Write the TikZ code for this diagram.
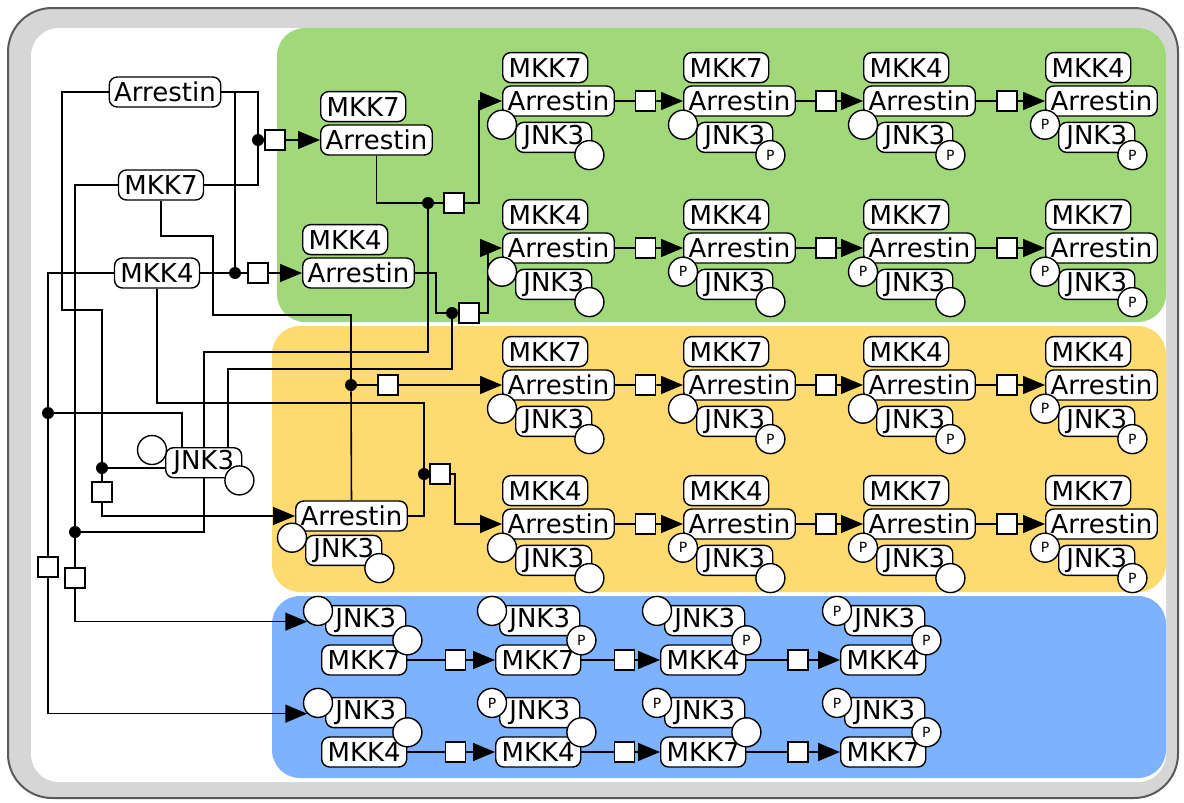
\documentclass[tikz,border=0pt]{standalone}
\usepackage{fontspec}
\setmainfont{DejaVu Sans}
\usetikzlibrary{positioning,arrows.meta,calc}

\definecolor{cellgreen}{RGB}{160,216,122}
\definecolor{cellyellow}{RGB}{254,219,112}
\definecolor{cellblue}{RGB}{125,178,255}
\definecolor{framegray}{RGB}{214,214,214}
\definecolor{frameline}{RGB}{90,90,90}

\pgfdeclarelayer{back}
\pgfdeclarelayer{wires}
\pgfsetlayers{back,wires,main}

\tikzset{
  species/.style={draw,fill=white,rounded corners=4pt,line width=0.7pt,
    inner xsep=2.5pt,inner ysep=0pt,minimum height=15pt,
    font=\fontsize{13}{13}\selectfont},
  mkk/.style={species,minimum width=42.5pt},
  jnk/.style={species,minimum width=38pt},
  site/.style={circle,draw,fill=white,line width=0.7pt,minimum size=14.5pt,
    inner sep=0pt,font=\fontsize{7}{7}\selectfont},
  proc/.style={draw,fill=white,line width=0.7pt,minimum size=10pt,inner sep=0pt},
  dot/.style={circle,fill=black,minimum size=6pt,inner sep=0pt},
  wire/.style={line width=0.8pt},
  react/.style={wire,-{Triangle[length=11pt,width=9pt]}}
}

% JNK3 with its two sites
\newcommand{\jnkbox}[4]{%
  \node[jnk,anchor=north west] (#1) at (#2) {JNK3};
  \node[site] (#1l) at ([xshift=-6.5pt,yshift=-1.5pt]#1.north west) {#3};
  \node[site] (#1r) at ([xshift=-1.5pt,yshift=-1pt]#1.south east) {#4};
}
% MKK:Arrestin:JNK3
\newcommand{\ternary}[6]{%
  \node[species,anchor=west] (#1) at (#2,#3) {Arrestin};
  \node[mkk,anchor=south west] (#1m) at ([yshift=1pt]#1.north west) {#4};
  \jnkbox{#1j}{[xshift=6.5pt,yshift=-2.5pt]#1.south west}{#5}{#6}
}
% JNK3:MKK
\newcommand{\dimer}[6]{%
  \node[mkk,anchor=west] (#1) at (#2,#3) {#4};
  \node[jnk,minimum width=40pt,anchor=south west] (#1j) at ([xshift=2pt,yshift=4pt]#1.north west) {JNK3};
  \node[site] (#1l) at ([xshift=-3.5pt,yshift=-3pt]#1j.north west) {#5};
  \node[site] (#1r) at ([xshift=0.5pt,yshift=-2pt]#1j.south east) {#6};
}

\begin{document}
\begin{tikzpicture}[x=0.5pt,y=-0.5pt]
  \useasboundingbox (0,0) rectangle (1184,803);

  % frame and compartments
  \begin{pgfonlayer}{back}
    \draw[frameline,line width=1pt,fill=framegray,rounded corners=22pt] (8,8) rectangle (1178,798);
    \fill[white,rounded corners=14pt] (31,28) rectangle (1166,782);
    \fill[cellgreen,rounded corners=14pt] (277,28) rectangle (1166,322);
    \fill[cellyellow,rounded corners=14pt] (272,326) rectangle (1166,592);
    \fill[cellblue,rounded corners=14pt] (272,596) rectangle (1166,778);
  \end{pgfonlayer}

  % free species
  \node[species] (fArr) at (165,92) {Arrestin};
  \node[mkk] (fMKK7) at (161,185) {MKK7};
  \node[mkk] (fMKK4) at (157,273) {MKK4};
  \jnkbox{fJNK}{165,447}{}{}

  % binary complexes
  \node[species,anchor=west] (c7) at (320,140) {Arrestin};
  \node[mkk,anchor=south west] (c7m) at ([yshift=1pt]c7.north west) {MKK7};
  \node[species,anchor=west] (c4) at (302,273) {Arrestin};
  \node[mkk,anchor=south west] (c4m) at ([yshift=1pt]c4.north west) {MKK4};
  \node[species,anchor=west] (cJ) at (295,516) {Arrestin};
  \jnkbox{cJj}{[xshift=5pt,yshift=-1.5pt]cJ.south west}{}{}

  % ternary chains
  \foreach \r/\y/\ma/\mb/\pl/\pr in {1/101/MKK7/MKK4/{}/P,2/248/MKK4/MKK7/P/{},
                                     3/385/MKK7/MKK4/{}/P,4/524/MKK4/MKK7/P/{}}{
    \ternary{t\r1}{502}{\y}{\ma}{}{}
    \ternary{t\r2}{683}{\y}{\ma}{\pl}{\pr}
    \ternary{t\r3}{863}{\y}{\mb}{\pl}{\pr}
    \ternary{t\r4}{1045}{\y}{\mb}{P}{P}
    \foreach \i/\j in {1/2,2/3,3/4}{
      \node[proc] (q\r\i) at ($(t\r\i.east)!0.45!(t\r\j.west)$) {};
      \draw[wire] (t\r\i.east) -- (q\r\i);
      \draw[react] (q\r\i) -- (t\r\j.west);
    }
  }

  % JNK3:MKK chains
  \foreach \r/\y/\ma/\mb/\pl/\pr in {5/660/MKK7/MKK4/{}/P,6/752/MKK4/MKK7/P/{}}{
    \dimer{b\r1}{321}{\y}{\ma}{}{}
    \dimer{b\r2}{495}{\y}{\ma}{\pl}{\pr}
    \dimer{b\r3}{660}{\y}{\mb}{\pl}{\pr}
    \dimer{b\r4}{840}{\y}{\mb}{P}{P}
    \foreach \i/\j in {1/2,2/3,3/4}{
      \node[proc] (q\r\i) at ($(b\r\i.east)!0.55!(b\r\j.west)$) {};
      \draw[wire] (b\r\i.east) -- (q\r\i);
      \draw[react] (q\r\i) -- (b\r\j.west);
    }
  }

  % binding reactions
  \node[dot] (d1) at (258,140) {};
  \node[proc] (s1) at (275,140) {};
  \node[dot] (d2) at (235,273) {};
  \node[proc] (s2) at (258,273) {};
  \node[dot] (d3) at (102,468) {};
  \node[proc] (s3) at (102,492) {};
  \node[dot] (d4) at (75,532) {};
  \node[proc] (s4) at (75,578) {};
  \node[dot] (d5) at (48,413) {};
  \node[proc] (s5) at (48,567) {};
  \node[dot] (d6) at (428,203) {};
  \node[proc] (s6) at (454,203) {};
  \node[dot] (d7) at (452,313) {};
  \node[proc] (s7) at (469,313) {};
  \node[dot] (d8) at (351,385) {};
  \node[proc] (s8) at (388,385) {};
  \node[dot] (d9) at (424,474) {};
  \node[proc] (s9) at (440,474) {};

  \coordinate (k3) at (62,310);
  \coordinate (k6) at (428,352);
  \coordinate (k6b) at (479,203);
  \coordinate (k7a) at (436,313);
  \coordinate (k7) at (452,369);
  \coordinate (k7b) at (488,313);
  \coordinate (k8a) at (213,236);
  \coordinate (k8b) at (351,315);
  \coordinate (k9) at (424,403);
  \coordinate (k9b) at (455,474);

  \begin{pgfonlayer}{wires}
    % Arrestin + MKK7
    \draw[wire] (fArr.east) -| (d1);
    \draw[wire] (fMKK7.east) -| (d1);
    \draw[wire] (d1) -- (s1);
    \draw[react] (s1) -- (c7.west);
    % Arrestin + MKK4
    \draw[wire] (fArr.east) -| (d2);
    \draw[wire] (fMKK4.east) -- (d2);
    \draw[wire] (d2) -- (s2);
    \draw[react] (s2) -- (c4.west);
    % Arrestin + JNK3
    \draw[wire] (fArr.west) -| (k3) -| (d3);
    \draw[wire] (d3) -- (d3 -| fJNK.west);
    \draw[wire] (d3) -- (s3);
    \draw[react] (s3) |- (cJ.west);
    % MKK7 + JNK3
    \draw[wire] (fMKK7.west) -| (d4);
    \draw[wire] (fJNK.south) |- (d4);
    \draw[wire] (d4) -- (s4);
    \draw[react] (s4) |- (b51l.south west);
    % MKK4 + JNK3
    \draw[wire] (fMKK4.west) -| (d5);
    \draw[wire] ([xshift=-11pt]fJNK.north) |- (d5);
    \draw[wire] (d5) -- (s5);
    \draw[react] (s5) |- (b61l.south west);
    % MKK7:Arrestin + JNK3
    \draw[wire] (c7.south) |- (d6);
    \draw[wire] (fJNK.north) |- (k6) -- (d6);
    \draw[wire] (d6) -- (s6);
    \draw[react] (s6) -- (k6b) |- (t11.west);
    % MKK4:Arrestin + JNK3
    \draw[wire] (c4.east) -| (k7a) -- (d7);
    \draw[wire] ([xshift=12pt]fJNK.north) |- (k7) -- (d7);
    \draw[wire] (d7) -- (s7);
    \draw[react] (s7) -- (k7b) |- (t21.west);
    % MKK7 + Arrestin:JNK3
    \draw[wire] (fMKK7.south) |- (k8a) |- (k8b) -- (d8);
    \draw[wire] (cJ.north) -- (d8);
    \draw[wire] (d8) -- (s8);
    \draw[react] (s8) -- (t31.west);
    % MKK4 + Arrestin:JNK3
    \draw[wire] (fMKK4.south) |- (k9) -- (d9);
    \draw[wire] (cJ.east) -| (d9);
    \draw[wire] (d9) -- (s9);
    \draw[react] (s9) -- (k9b) |- (t41.west);
  \end{pgfonlayer}
\end{tikzpicture}
\end{document}
